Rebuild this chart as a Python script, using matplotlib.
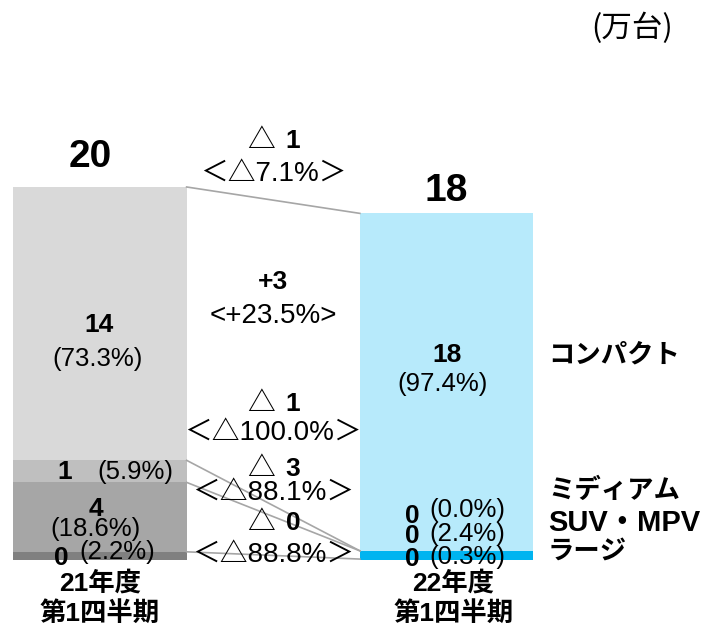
import numpy as np
import matplotlib
matplotlib.use('Agg')
import matplotlib.pyplot as plt

plt.rcParams['font.family'] = ['Liberation Sans', 'Noto Sans CJK JP']

# data (万台), stacked bottom -> top
segments = ['ラージ', 'SUV・MPV', 'ミディアム', 'コンパクト']
fy21 = [0.43, 3.65, 1.16, 14.37]
fy22 = [0.048, 0.434, 0.0, 17.74]
val21 = ['0', '4', '1', '14']
pct21 = ['(2.2%)', '(18.6%)', '(5.9%)', '(73.3%)']
val22 = ['0', '0', '0', '18']
pct22 = ['(0.3%)', '(2.4%)', '(0.0%)', '(97.4%)']
total_labels = ['20', '18']
periods = ['21年度\n第1四半期', '22年度\n第1四半期']
# change labels: total first, then compact, medium, suv, large
chg_num = ['1', '+3', '1', '3', '0']
chg_tri = [True, False, True, True, True]
chg_pct = ['＜△7.1%＞', '<+23.5%>', '＜△100.0%＞', '＜△88.1%＞', '＜△88.8%＞']

col21 = ['#808080', '#A6A6A6', '#BFBFBF', '#D9D9D9']
col22 = ['#00B4F0', '#00B4F0', '#00B4F0', '#B7EAFB']

fig = plt.figure(figsize=(7.09, 6.26), dpi=100)
ax = fig.add_axes([0, 0, 1, 1])
ax.set_xlim(-0.2886, 1.7576)
ax.set_ylim(-3.47, 29.44)
ax.axis('off')

x = [0, 1]
w = 0.5
for data, cols, xi in [(fy21, col21, x[0]), (fy22, col22, x[1])]:
    bottom = 0
    for v, c in zip(data, cols):
        ax.bar(xi, v, w, bottom=bottom, color=c, linewidth=0)
        bottom += v

# connector lines between segment tops
top21 = np.cumsum(fy21)
top22 = np.cumsum(fy22)
for a, b in zip(top21, top22):
    ax.plot([x[0] + w / 2, x[1] - w / 2], [a, b], color='#A6A6A6', lw=1.2, zorder=1)

# totals
ax.text(-0.027, top21[-1] + 1.6, total_labels[0], ha='center', va='center',
        fontsize=28, fontweight='bold')
ax.text(1.0, top22[-1] + 1.2, total_labels[1], ha='center', va='center',
        fontsize=28, fontweight='bold')

# segment labels
fs_v = 19
fs_p = 18.5
lab21 = [  # (val x, val y, pct x, pct y)
    (-0.113, 0.10, 0.049, 0.42),
    (-0.012, 2.66, -0.012, 1.63),
    (-0.101, 4.63, 0.101, 4.63),
    (-0.003, 12.36, -0.006, 10.57),
]
for (vx, vy, px, py), v, p in zip(lab21, val21, pct21):
    ax.text(vx, vy, v, ha='center', va='center', fontsize=fs_v, fontweight='bold')
    ax.text(px, py, p, ha='center', va='center', fontsize=fs_p)

lab22 = [
    (0.9, 0.05, 1.059, 0.16),
    (0.9, 1.26, 1.059, 1.37),
    (0.9, 2.31, 1.059, 2.63),
    (1.003, 10.78, 0.989, 9.25),
]
for (vx, vy, px, py), v, p in zip(lab22, val22, pct22):
    ax.text(vx, vy, v, ha='center', va='center', fontsize=fs_v, fontweight='bold')
    ax.text(px, py, p, ha='center', va='center', fontsize=fs_p)

# change labels in the gap
chg_y = [(22.03, 20.29), (14.64, 12.83), (8.20, 6.68), (4.81, 3.52), (1.95, 0.26)]
for (ny, py), n, tri, p in zip(chg_y, chg_num, chg_tri, chg_pct):
    if tri:
        ax.text(0.5 + 0.006, ny, '△', ha='right', va='center', fontsize=20)
        ax.text(0.5 + 0.036, ny, n, ha='left', va='center', fontsize=19, fontweight='bold')
    else:
        ax.text(0.5, ny, n, ha='center', va='center', fontsize=19, fontweight='bold')
    ax.text(0.5, py, p, ha='center', va='center', fontsize=20)

# period labels
for xi, lab in zip([0, 1.019], periods):
    ax.text(xi, -2.02, lab, ha='center', va='center', fontsize=19,
            fontweight='bold', linespacing=1.3)

# segment names on the right
name_y = [0.45, 1.97, 3.65, 10.75]
name_fs = [19, 21, 19, 19]
for nm, ny, nf in zip(segments, name_y, name_fs):
    ax.text(1.293, ny, nm, ha='left', va='center', fontsize=nf, fontweight='bold')

ax.text(1.535, 27.97, '(万台)', ha='center', va='center', fontsize=22,
        family='Noto Sans CJK JP')

fig.savefig('out.png', dpi=100)
